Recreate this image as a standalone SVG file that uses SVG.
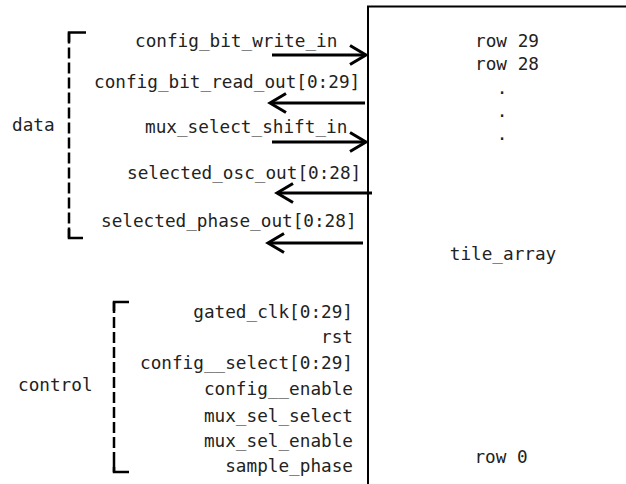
<svg xmlns="http://www.w3.org/2000/svg" width="626" height="484" viewBox="0 0 626 484">
<style>
text{font-family:"DejaVu Sans Mono","Liberation Mono",monospace;font-size:17.7px;fill:#222}
.r{text-anchor:end}
.m{text-anchor:middle}
.br{fill:none;stroke:#000;stroke-width:2.5;stroke-dasharray:11 4}
.bc{fill:none;stroke:#000;stroke-width:2.5}
.w{fill:none;stroke:#000;stroke-width:3}
.ah{fill:none;stroke:#000;stroke-width:3;stroke-linejoin:miter}
</style>
<rect width="626" height="484" fill="#fff"/>
<g id="tile_array">
<path d="M368,490 V6.5 H630" fill="none" stroke="#000" stroke-width="2"/>
<text class="m" x="507" y="47">row 29</text>
<text class="m" x="507" y="70">row 28</text>
<text class="m" x="502" y="94">.</text>
<text class="m" x="502" y="117">.</text>
<text class="m" x="502" y="140">.</text>
<text class="m" x="503" y="260">tile_array</text>
<text class="m" x="501" y="463">row 0</text>
</g>
<g id="data">
<path class="br" d="M69,32.5 V238"/>
<path class="bc" d="M86,32.5 H69 V42"/>
<path class="bc" d="M69,229 V238 H83"/>
<text x="12" y="131">data</text>
</g>
<g id="control">
<path class="br" d="M114,302 V472"/>
<path class="bc" d="M129,302 H114 V311"/>
<path class="bc" d="M114,463 V472 H129"/>
<text x="18" y="391">control</text>
<text class="r" x="353" y="318">gated_clk[0:29]</text>
<text class="r" x="353" y="343">rst</text>
<text class="r" x="353" y="369">config__select[0:29]</text>
<text class="r" x="353" y="395">config__enable</text>
<text class="r" x="353" y="422">mux_sel_select</text>
<text class="r" x="353" y="447">mux_sel_enable</text>
<text class="r" x="353" y="472">sample_phase</text>
</g>
<g id="labels">
<text x="135" y="47">config_bit_write_in</text>
<text x="94" y="88">config_bit_read_out[0:29]</text>
<text x="145" y="133">mux_select_shift_in</text>
<text x="127" y="179">selected_osc_out[0:28]</text>
<text x="101" y="227">selected_phase_out[0:28]</text>
</g>
<g id="connectors">
<path class="w" d="M272,55 H365"/><path class="ah" d="M350,45.5 L366,55 L350,64.5"/>
<path class="w" d="M365,103 H272"/><path class="ah" d="M286,93.5 L270,103 L286,112.5"/>
<path class="w" d="M272,142 H365"/><path class="ah" d="M350,132.5 L366,142 L350,151.5"/>
<path class="w" d="M372,193 H279"/><path class="ah" d="M293,183.5 L277,193 L293,202.5"/>
<path class="w" d="M363,243 H270"/><path class="ah" d="M284,233.5 L268,243 L284,252.5"/>
</g>
</svg>
